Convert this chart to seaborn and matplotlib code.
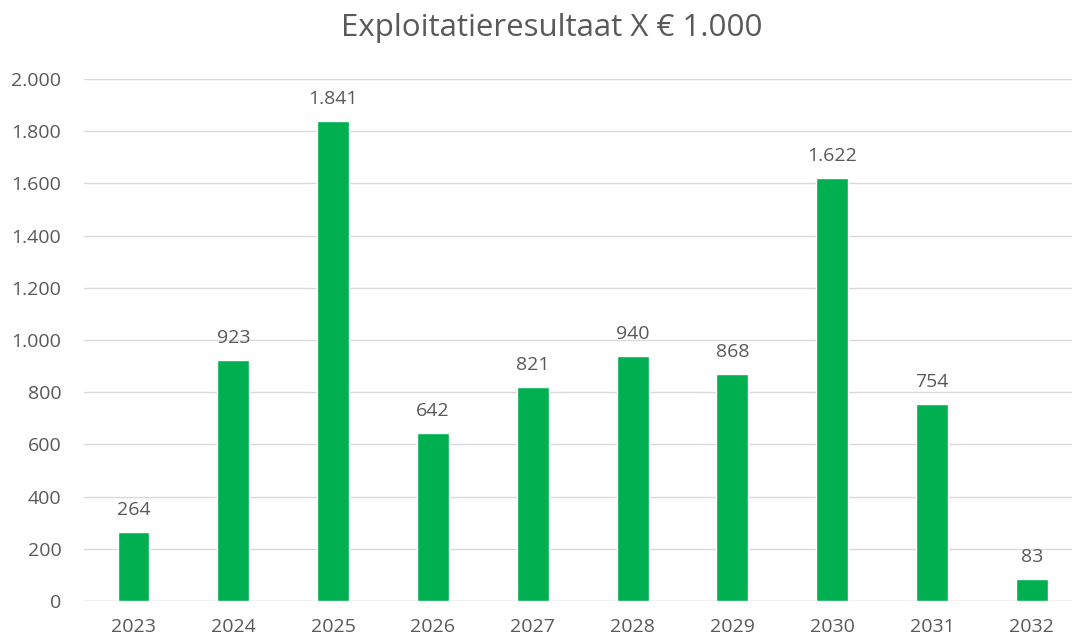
import matplotlib
matplotlib.use("Agg")
import matplotlib.pyplot as plt
import seaborn as sns
import pandas as pd
from matplotlib.ticker import FuncFormatter

years = ["2023", "2024", "2025", "2026", "2027", "2028", "2029", "2030", "2031", "2032"]
results = [264, 923, 1841, 642, 821, 940, 868, 1622, 754, 83]
y_ticks = [0, 200, 400, 600, 800, 1000, 1200, 1400, 1600, 1800, 2000]

title = "Exploitatieresultaat X € 1.000"
green = "#00B050"
text_grey = "#595959"


def dutch(v, pos=None):
    # thousand separator is a dot
    return f"{int(v):,}".replace(",", ".")


sns.set_theme(style="white")
plt.rcParams["font.family"] = ["Open Sans", "DejaVu Sans"]

frame = pd.DataFrame({"year": years, "result": results})

fig = plt.figure(figsize=(10.72, 6.38), dpi=100)
# plot area runs a bit past the right edge, like the cropped original
ax = fig.add_axes([0.078, 0.058, 0.931, 0.818])

sns.barplot(data=frame, x="year", y="result", color=green, width=0.32,
            saturation=1, ax=ax, zorder=3)

for patch, val in zip(ax.patches, results):
    ax.text(patch.get_x() + patch.get_width() / 2, val + 50, dutch(val),
            ha="center", va="bottom", fontsize=14, color=text_grey)

ax.set_ylim(0, 2000)
ax.set_yticks(y_ticks)
ax.yaxis.set_major_formatter(FuncFormatter(dutch))
ax.grid(axis="y", color="#D9D9D9", linewidth=1, zorder=0)
for side in ["top", "right", "left", "bottom"]:
    ax.spines[side].set_visible(False)
ax.axhline(0, color="#D9D9D9", linewidth=1, zorder=1)
ax.set_xlabel("")
ax.set_ylabel("")
ax.tick_params(axis="both", length=0, labelsize=14, colors=text_grey)
ax.tick_params(axis="y", pad=16)
ax.tick_params(axis="x", pad=12)

fig.text(0.515, 0.956, title, ha="center", va="center", fontsize=22.5, color=text_grey)

fig.savefig("out.png", dpi=100)
